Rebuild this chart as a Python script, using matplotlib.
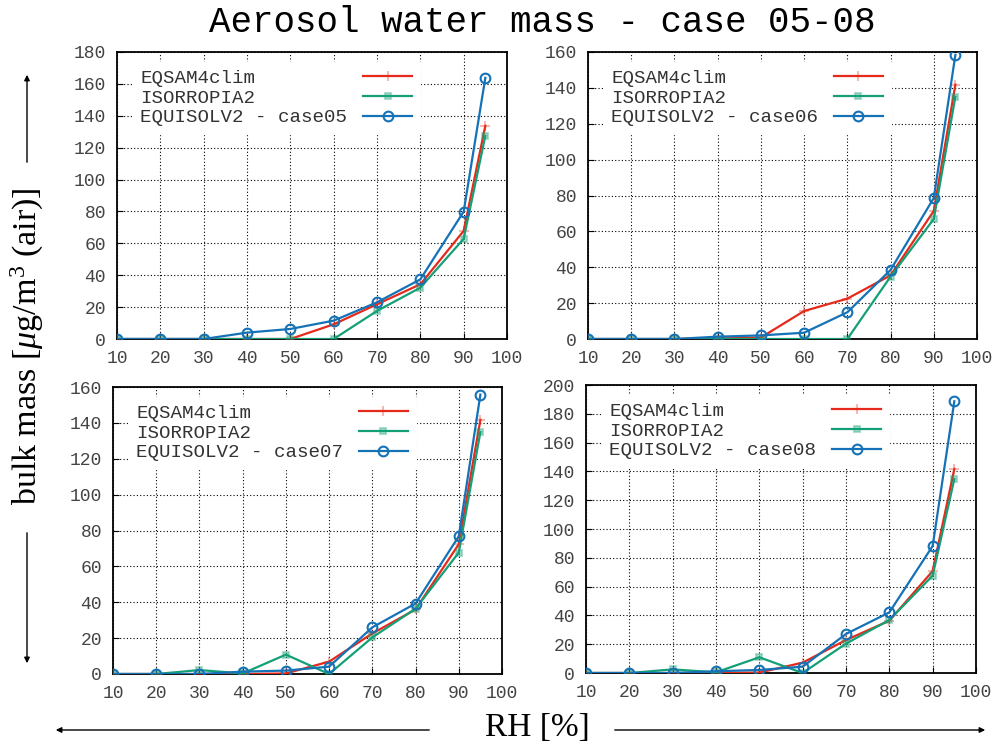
import matplotlib
matplotlib.use("Agg")
import matplotlib.pyplot as plt
import numpy as np

# relative humidity [%]
rh = [10, 20, 30, 40, 50, 60, 70, 80, 90, 95]

cases = ["case05", "case06", "case07", "case08"]
models = ["EQSAM4clim", "ISORROPIA2", "EQUISOLV2"]

# aerosol water mass
eqsam_05 = [0, 0, 0, 0, 0, 9.2, 21.8, 34.3, 67.8, 133.7]
isorr_05 = [0, 0, 0, 0, 0, 0, 17.6, 32.2, 62.8, 127.4]
equis_05 = [0, 0, 0, 4.0, 6.3, 11.5, 23.0, 37.4, 79.9, 163.8]

eqsam_06 = [0, 0, 0, 0.3, 0.8, 15.6, 22.5, 35.5, 71.4, 141.8]
isorr_06 = [0, 0, 0, 0, 0, 0, 0, 34.8, 66.9, 135.1]
equis_06 = [0, 0, 0, 1.3, 2.0, 3.5, 14.9, 38.5, 78.6, 158.4]

eqsam_07 = [0, 0, 0, 0, 0.3, 6.9, 22.6, 36.0, 72.4, 141.7]
isorr_07 = [0, 0, 2.2, 0.3, 10.8, 0, 20.4, 36.4, 67.7, 134.9]
equis_07 = [0, 0, 0, 1.3, 1.9, 4.1, 26.0, 39.3, 76.8, 155.8]

eqsam_08 = [0, 0, 0, 0, 0.3, 7.2, 22.9, 36.3, 70.8, 141.7]
isorr_08 = [0, 0, 2.5, 0.5, 10.9, 0, 20.4, 36.8, 67.6, 134.7]
equis_08 = [0, 0, 0, 1.2, 2.1, 4.4, 27.1, 42.1, 88.2, 188.7]

data = [
    [eqsam_05, isorr_05, equis_05],
    [eqsam_06, isorr_06, equis_06],
    [eqsam_07, isorr_07, equis_07],
    [eqsam_08, isorr_08, equis_08],
]
ymax = [180, 160, 160, 200]

colors = ["#e52a1c", "#14a077", "#1572b6"]
markers = ["+", "s", "o"]
msizes = [7, 5, 7]

mono = ["Liberation Mono", "DejaVu Sans Mono"]
serif = ["Liberation Serif", "DejaVu Serif"]

plt.rcParams["mathtext.fontset"] = "custom"
plt.rcParams["mathtext.rm"] = "Liberation Serif"
plt.rcParams["mathtext.it"] = "Liberation Serif:italic"

W, H = 1002, 747
fig = plt.figure(figsize=(W / 100, H / 100), dpi=100)
renderer = fig.canvas.get_renderer()

# axes boxes in pixels: left, right, top, bottom
boxes = [(117, 507, 52, 339), (588, 977, 52, 339),
         (113, 502, 387, 674), (586, 976, 385, 673)]

leg_fs = 13.8
for i, (l, r, t, b) in enumerate(boxes):
    ax = fig.add_axes([l / W, (H - b) / H, (r - l) / W, (b - t) / H])
    for j in range(3):
        ax.plot(rh, data[i][j], color=colors[j], lw=1.6, marker=markers[j],
                ms=msizes[j], mfc="none" if j == 2 else colors[j] + "55",
                mew=1.5, label=models[j] + (" - " + cases[i] if j == 2 else ""),
                zorder=3)
    ax.set_xlim(10, 100)
    ax.set_ylim(0, ymax[i])
    ax.set_xticks(np.arange(10, 101, 10))
    ax.set_yticks(np.arange(0, ymax[i] + 1, 20))
    ax.grid(True, color="black", linestyle=(0, (1, 2)), linewidth=0.8)
    ax.tick_params(direction="in", length=4, colors="black",
                   labelcolor="#444444", labelsize=13, pad=8)
    for lab in ax.get_xticklabels() + ax.get_yticklabels():
        lab.set_family(mono)
    for s in ax.spines.values():
        s.set_linewidth(1.3)
    ax.set_axisbelow(True)
    leg = ax.legend(loc="upper left", bbox_to_anchor=(0.04, 0.966),
                    markerfirst=False, frameon=True, fancybox=False,
                    framealpha=1, edgecolor="white", facecolor="white",
                    handlelength=2.6, handletextpad=0.8, labelspacing=0.12,
                    borderpad=0.4, borderaxespad=0,
                    prop={"family": mono, "size": leg_fs})
    for txt in leg.get_texts():
        txt.set_color("#333333")
    # left-align the labels, keep the line samples in one column on the right
    widths = [txt.get_window_extent(renderer).width for txt in leg.get_texts()]
    rows = leg._legend_handle_box.get_children()[0].get_children()
    for row, w in zip(rows, widths):
        row.sep = 0.8 * leg_fs + (max(widths) - w) * 72 / 100

fig.text(209 / W, 1 - 22 / H, "Aerosol water mass - case 05-08",
         family=mono, fontsize=25.8, ha="left", va="center")

fig.text(27 / W, 1 - 346 / H, r"bulk mass [$\mu$g/m$^3$ (air)]",
         family=serif, fontsize=24.5, rotation=90, ha="center", va="center")
fig.text(537 / W, 1 - 728 / H, "RH [%]", family=serif, fontsize=24,
         ha="center", va="center")

arrow = dict(arrowstyle="-|>", color="black", lw=1.0, mutation_scale=8)
fig.add_artist(matplotlib.patches.FancyArrowPatch(
    (27 / W, 1 - 165 / H), (27 / W, 1 - 72 / H), transform=fig.transFigure, **arrow))
fig.add_artist(matplotlib.patches.FancyArrowPatch(
    (27 / W, 1 - 530 / H), (27 / W, 1 - 666 / H), transform=fig.transFigure, **arrow))
fig.add_artist(matplotlib.patches.FancyArrowPatch(
    (432 / W, 1 - 730 / H), (53 / W, 1 - 730 / H), transform=fig.transFigure, **arrow))
fig.add_artist(matplotlib.patches.FancyArrowPatch(
    (612 / W, 1 - 730 / H), (988 / W, 1 - 730 / H), transform=fig.transFigure, **arrow))

fig.savefig("out.png", dpi=100)
